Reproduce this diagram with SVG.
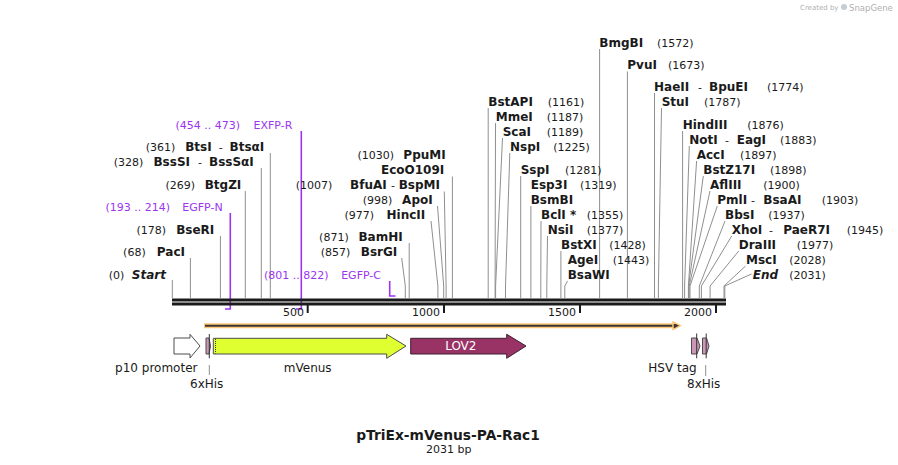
<svg xmlns="http://www.w3.org/2000/svg" width="898" height="465" viewBox="0 0 898 465">
<style>
text{font-family:"DejaVu Sans",Verdana,"Liberation Sans",sans-serif;fill:#1a1a1a}
.n{font-size:11px}
.b{font-size:12px;font-weight:bold}
.bi{font-size:12px;font-weight:bold;font-style:italic}
.p{font-size:11px;fill:#9b35f0}
.f{font-size:12px}
.ln{stroke:#8f8f8f;stroke-width:1;fill:none}
.pr{stroke:#9b35f0;stroke-width:1.6;fill:none}
.fe{stroke:#4d4d4d;stroke-width:1}
.tk{stroke:#1a1a1a;stroke-width:2}
.e{text-anchor:end}.m{text-anchor:middle}
.pink{fill:#cc96b6}
</style>
<rect width="898" height="465" fill="#fff"/>

<g id="watermark">
<text x="800" y="10" style="font-size:7px;fill:#b0b0b0">Created by</text>
<circle cx="844" cy="7" r="3" fill="#c4ccd4"/>
<text x="849" y="10.5" style="font-size:8.5px;fill:#b0b0b0">SnapGene</text>
</g>

<g id="connectors">
<!-- left enzymes -->
<path class="ln" d="M172.3 280V298"/>
<path class="ln" d="M190.4 258V298"/>
<path class="ln" d="M220.4 236V298"/>
<path class="ln" d="M245.3 191V298"/>
<path class="ln" d="M261.3 168V298"/>
<path class="ln" d="M270.3 153V298"/>
<path class="ln" d="M401.7 258L405.3 286V298"/>
<path class="ln" d="M409.2 243V298"/>
<path class="ln" d="M431 221L437.9 286V298"/>
<path class="ln" d="M437.5 206L443.7 286V298"/>
<path class="ln" d="M444.3 191.5L446.1 286V298"/>
<path class="ln" d="M452.4 176.5V298"/>
<!-- right enzymes -->
<path class="ln" d="M488.2 108V298"/>
<path class="ln" d="M495.5 123L495.1 286V298"/>
<path class="ln" d="M502.5 138L495.6 286V298"/>
<path class="ln" d="M509.8 153L505.5 286V298"/>
<path class="ln" d="M520.7 176V298"/>
<path class="ln" d="M530.9 206V298"/>
<path class="ln" d="M541 221L540.8 286V298"/>
<path class="ln" d="M547.5 236L546.8 286V298"/>
<path class="ln" d="M560.9 251V298"/>
<path class="ln" d="M567.5 281L564.8 286V298"/>
<path class="ln" d="M599.6 49V298"/>
<path class="ln" d="M627.4 71.5V298"/>
<path class="ln" d="M654.5 93V298"/>
<path class="ln" d="M661.5 108L658.4 286V298"/>
<path class="ln" d="M682.6 131V298"/>
<path class="ln" d="M689.3 146L684.6 286V298"/>
<path class="ln" d="M696.6 161L688.4 286V298"/>
<path class="ln" d="M703.3 176L688.6 286V298"/>
<path class="ln" d="M710 191L689.2 286V298"/>
<path class="ln" d="M717.3 206L690 286V298"/>
<path class="ln" d="M725 221L699.3 286V298"/>
<path class="ln" d="M731.7 236L701.4 286V298"/>
<path class="ln" d="M738.7 251L710.1 286V298"/>
<path class="ln" d="M745.5 266L724 286V298"/>
<path class="ln" d="M751.5 274L724.8 286V298"/>
<!-- primers -->
<path class="pr" d="M230.3 213V309H225"/>
<path class="pr" d="M301.3 131V309H296"/>
<path class="pr" d="M389.7 281V296H395.5"/>
</g>

<g id="backbone">
<rect x="172" y="298.5" width="554" height="3" fill="#1a1a1a"/>
<rect x="172" y="302.5" width="554" height="3" fill="#1a1a1a"/>
<line class="tk" x1="307.7" y1="305" x2="307.7" y2="313"/>
<line class="tk" x1="444" y1="305" x2="444" y2="313"/>
<line class="tk" x1="580" y1="305" x2="580" y2="313"/>
<line class="tk" x1="716" y1="305" x2="716" y2="313"/>
<text class="n e" x="304" y="315.5">500</text>
<text class="n e" x="440" y="315.5">1000</text>
<text class="n e" x="576" y="315.5">1500</text>
<text class="n e" x="712" y="315.5">2000</text>
</g>

<g id="orf">
<line x1="204" y1="325.7" x2="675" y2="325.7" stroke="#f9c77c" stroke-width="5"/>
<line x1="205" y1="325.7" x2="675" y2="325.7" stroke="#3a3530" stroke-width="2"/>
<polygon points="673,321.8 680.5,325.7 673,329.6" fill="#3a3530" stroke="#f9c77c" stroke-width="1.5" stroke-linejoin="round"/>
</g>

<!-- left labels -->
<g id="start"><text class="n e" x="124.3" y="279">(0)</text><text class="bi e" x="166" y="279">Start</text></g>
<g id="paci"><text class="n e" x="145.7" y="256.3">(68)</text><text class="b e" x="185" y="256.3">PacI</text></g>
<g id="bseri"><text class="n e" x="166" y="233.7">(178)</text><text class="b e" x="214.3" y="233.7">BseRI</text></g>
<g id="egfp-n"><text class="p e" x="170" y="211.3">(193 .. 214)</text><text class="p e" x="222.7" y="211.3">EGFP-N</text></g>
<g id="btgzi"><text class="n e" x="195" y="189.3">(269)</text><text class="b e" x="241.3" y="189.3">BtgZI</text></g>
<g id="bsssi"><text class="n e" x="143.3" y="165.7">(328)</text><text class="b e" x="190" y="165.7">BssSI</text><text class="n m" x="200" y="165.7">-</text><text class="b" x="209" y="165.7">BssSαI</text></g>
<g id="btsi"><text class="n e" x="175.3" y="150.7">(361)</text><text class="b e" x="211.7" y="150.7">BtsI</text><text class="n m" x="220.7" y="150.7">-</text><text class="b" x="229.5" y="150.7">BtsαI</text></g>
<g id="exfp-r"><text class="p e" x="240" y="129">(454 .. 473)</text><text class="p e" x="292.3" y="129">EXFP-R</text></g>
<g id="egfp-c"><text class="p e" x="328.5" y="279">(801 .. 822)</text><text class="p e" x="381" y="279">EGFP-C</text></g>
<g id="bsrgi"><text class="n e" x="350.3" y="255.7">(857)</text><text class="b e" x="397.3" y="255.7">BsrGI</text></g>
<g id="bamhi"><text class="n e" x="348.7" y="240.7">(871)</text><text class="b e" x="402.7" y="240.7">BamHI</text></g>
<g id="hincii"><text class="n e" x="374" y="219">(977)</text><text class="b e" x="425.3" y="219">HincII</text></g>
<g id="apoi"><text class="n e" x="392.3" y="204">(998)</text><text class="b e" x="432.7" y="204">ApoI</text></g>
<g id="bfuai"><text class="n e" x="332.3" y="189">(1007)</text><text class="b e" x="386.7" y="189">BfuAI</text><text class="n m" x="393" y="189">-</text><text class="b e" x="440" y="189">BspMI</text></g>
<g id="ecoo109i"><text class="b e" x="444.3" y="174">EcoO109I</text></g>
<g id="ppumi"><text class="n e" x="394" y="159">(1030)</text><text class="b e" x="445.7" y="159">PpuMI</text></g>

<!-- right labels -->
<g id="bstapi"><text class="b" x="488.3" y="106">BstAPI</text><text class="n" x="547.7" y="106">(1161)</text></g>
<g id="mmei"><text class="b" x="495.7" y="121">MmeI</text><text class="n" x="546.7" y="121">(1187)</text></g>
<g id="scai"><text class="b" x="502.7" y="136">ScaI</text><text class="n" x="546.7" y="136">(1189)</text></g>
<g id="nspi"><text class="b" x="510" y="151">NspI</text><text class="n" x="553.3" y="151">(1225)</text></g>
<g id="sspi"><text class="b" x="520.7" y="174">SspI</text><text class="n" x="565" y="174">(1281)</text></g>
<g id="esp3i"><text class="b" x="530.7" y="189">Esp3I</text><text class="n" x="580" y="189">(1319)</text><text class="b" x="530.7" y="204">BsmBI</text></g>
<g id="bcli"><text class="b" x="541" y="219">BclI *</text><text class="n" x="586.7" y="219">(1355)</text></g>
<g id="nsii"><text class="b" x="547.7" y="234">NsiI</text><text class="n" x="586.7" y="234">(1377)</text></g>
<g id="bstxi"><text class="b" x="561" y="249">BstXI</text><text class="n" x="609.3" y="249">(1428)</text></g>
<g id="agei"><text class="b" x="567.7" y="264">AgeI</text><text class="n" x="612.7" y="264">(1443)</text><text class="b" x="567.7" y="279">BsaWI</text></g>
<g id="bmgbi"><text class="b" x="599.3" y="47">BmgBI</text><text class="n" x="657" y="47">(1572)</text></g>
<g id="pvui"><text class="b" x="627.3" y="69">PvuI</text><text class="n" x="668" y="69">(1673)</text></g>
<g id="haeii"><text class="b" x="654" y="91">HaeII</text><text class="n m" x="700" y="91">-</text><text class="b" x="709" y="91">BpuEI</text><text class="n" x="767" y="91">(1774)</text></g>
<g id="stui"><text class="b" x="661.7" y="106">StuI</text><text class="n" x="704" y="106">(1787)</text></g>
<g id="hindiii"><text class="b" x="682.7" y="129">HindIII</text><text class="n" x="747.3" y="129">(1876)</text></g>
<g id="noti"><text class="b" x="689.3" y="144">NotI</text><text class="n m" x="727" y="144">-</text><text class="b" x="736.7" y="144">EagI</text><text class="n" x="780" y="144">(1883)</text></g>
<g id="acci"><text class="b" x="696.7" y="159">AccI</text><text class="n" x="740" y="159">(1897)</text></g>
<g id="bstz17i"><text class="b" x="703.3" y="174">BstZ17I</text><text class="n" x="770" y="174">(1898)</text></g>
<g id="afliii"><text class="b" x="710" y="189">AflIII</text><text class="n" x="763.3" y="189">(1900)</text></g>
<g id="pmli"><text class="b" x="717.3" y="204">PmlI</text><text class="n m" x="753" y="204">-</text><text class="b" x="763.3" y="204">BsaAI</text><text class="n" x="821.7" y="204">(1903)</text></g>
<g id="bbsi"><text class="b" x="725" y="219">BbsI</text><text class="n" x="768.3" y="219">(1937)</text></g>
<g id="xhoi"><text class="b" x="731.7" y="234">XhoI</text><text class="n m" x="771" y="234">-</text><text class="b" x="783.3" y="234">PaeR7I</text><text class="n" x="846.7" y="234">(1945)</text></g>
<g id="draiii"><text class="b" x="738.7" y="249">DraIII</text><text class="n" x="796.7" y="249">(1977)</text></g>
<g id="msci"><text class="b" x="746" y="264">MscI</text><text class="n" x="789.3" y="264">(2028)</text></g>
<g id="end"><text class="bi" x="752.7" y="279">End</text><text class="n" x="789.3" y="279">(2031)</text></g>

<!-- features -->
<g id="p10-promoter">
<polygon class="fe" fill="#fff" points="174,338 190,338 190,334.3 200,346 190,358 190,354 174,354"/>
<text class="f m" x="156.3" y="372">p10 promoter</text>
</g>
<g id="his6">
<polygon class="fe pink" points="206,338 209,338 210.5,346 209,354 206,354"/>
<line x1="209.3" y1="334" x2="209.3" y2="358.3" stroke="#333" stroke-width="1"/>
<line x1="209.3" y1="365" x2="209.3" y2="375" stroke="#8f8f8f" stroke-width="1"/>
<text class="f m" x="206.7" y="388">6xHis</text>
</g>
<g id="mvenus">
<polygon class="fe" fill="#dfff30" points="213.3,338.3 386.7,338.3 386.7,334.3 406,346 386.7,358.3 386.7,354 213.3,354"/>
<line x1="215.5" y1="339" x2="215.5" y2="353.5" stroke="#333" stroke-width="1" stroke-dasharray="1,1"/>
<text class="f m" x="307.7" y="372">mVenus</text>
</g>
<g id="lov2">
<polygon fill="#993366" stroke="#3a2030" stroke-width="1" points="410.7,338.3 506.7,338.3 506.7,334.3 526,346 506.7,358.3 506.7,354 410.7,354"/>
<text class="f m" x="460.8" y="350.3" style="fill:#fff">LOV2</text>
</g>
<g id="hsv-tag">
<polygon class="fe pink" points="691.5,338 697,338 700,346 697,354 691.5,354"/>
<line x1="696.7" y1="333.5" x2="696.7" y2="358.3" stroke="#333" stroke-width="1"/>
<text class="f m" x="672.5" y="372">HSV tag</text>
</g>
<g id="his8">
<polygon class="fe pink" points="702.5,338 706.5,338 709,346 706.5,354 702.5,354"/>
<line x1="706.2" y1="333.5" x2="706.2" y2="358.3" stroke="#333" stroke-width="1"/>
<line x1="705.7" y1="365" x2="705.7" y2="376" stroke="#8f8f8f" stroke-width="1"/>
<text class="f m" x="703.7" y="388">8xHis</text>
</g>

<g id="title">
<text class="m" x="448" y="440" style="font-size:13.8px;font-weight:bold">pTriEx-mVenus-PA-Rac1</text>
<text class="n m" x="448.8" y="453.3">2031 bp</text>
</g>
</svg>
